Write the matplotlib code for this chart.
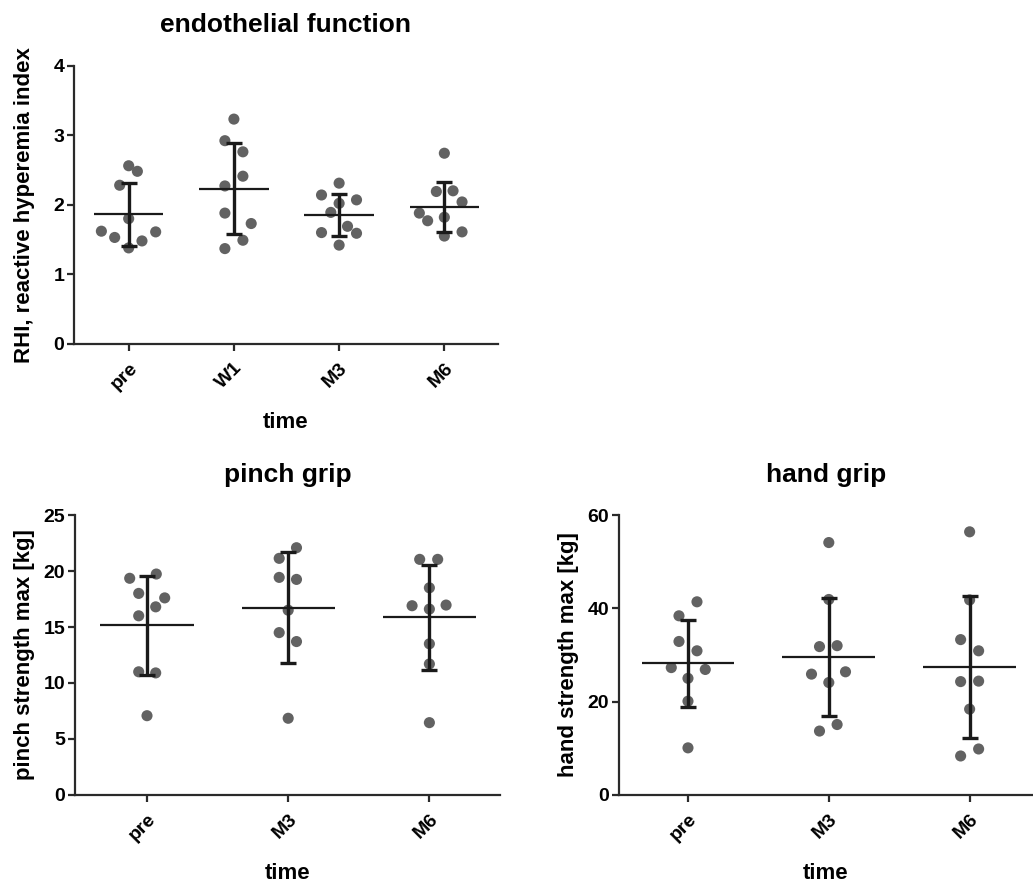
import numpy as np
import matplotlib
matplotlib.use("Agg")
from matplotlib import pyplot as plt

plt.rcParams['font.family'] = ['Liberation Sans', 'DejaVu Sans']
plt.rcParams['font.weight'] = 'bold'

# endothelial function (RHI)
rhi_groups = ["pre", "W1", "M3", "M6"]
rhi_pre = [2.56, 2.48, 2.28, 1.80, 1.62, 1.53, 1.61, 1.48, 1.38]
rhi_w1 = [3.23, 2.92, 2.76, 2.41, 2.27, 1.88, 1.73, 1.49, 1.37]
rhi_m3 = [2.31, 2.14, 2.07, 2.02, 1.89, 1.69, 1.60, 1.59, 1.42]
rhi_m6 = [2.74, 2.19, 2.20, 2.04, 1.88, 1.77, 1.82, 1.61, 1.55]
rhi_mean = [1.86, 2.23, 1.85, 1.97]
rhi_sd = [0.45, 0.655, 0.30, 0.36]

# pinch grip
grip_groups = ["pre", "M3", "M6"]
pinch_pre = [19.35, 19.73, 18.0, 17.6, 16.8, 16.0, 11.0, 10.9, 7.08]
pinch_m3 = [22.08, 21.13, 19.43, 19.25, 16.5, 14.5, 13.7, 6.85]
pinch_m6 = [21.04, 21.04, 18.5, 16.9, 16.6, 16.96, 13.5, 11.7, 6.46]
pinch_mean = [15.15, 16.73, 15.85]
pinch_sd = [4.42, 4.97, 4.65]

# hand grip
hand_pre = [41.4, 38.4, 32.9, 30.9, 27.3, 26.9, 25.0, 20.1, 10.1]
hand_m3 = [54.1, 41.9, 31.8, 32.0, 25.9, 26.4, 24.1, 15.1, 13.7]
hand_m6 = [56.4, 41.8, 33.3, 30.9, 24.3, 24.4, 18.4, 9.86, 8.36]
hand_mean = [28.2, 29.6, 27.5]
hand_sd = [9.4, 12.65, 15.2]

# horizontal scatter offsets of the dots, in pixels
rhi_jit = [[0, 8.7, -9, 0, -27.3, -14, 27, 13.3, 0],
           [0, -9, 9, 9, -9, -9, 17.3, 9, -9],
           [0, -17.6, 17.4, 0, -8.3, 8.4, -17.6, 17.4, 0],
           [0, -8, 8.7, 17.7, -25, -16.7, 0, 17.7, 0]]
pinch_jit = [[-17.3, 9.3, -8.3, 17.7, 8.7, -8.3, -8.3, 8.7, 0],
             [8.3, -9, -9, 8.3, 0, -9, 8.3, 0],
             [-9.7, 8.3, 0, -17.3, 0, 16.7, 0, 0, 0]]
hand_jit = [[9, -9, -9, 9, -16.7, 17.3, 0, 0, 0],
            [0, 0, -9.3, 8.3, -17.3, 16.7, 0, 8.3, -9.3],
            [0, 0, -9, 9, -9, 9, 0, 9, -9]]

FIG_W, FIG_H, DPI = 10.33, 8.84, 100
DOT = '#626262'
INK = '#1a1a1a'


def panel(fig, rect, xlim, groups, values, jitter, means, sds,
          ylim, yticks, title, ylabel, ypad=6):
    ax = fig.add_axes(rect)
    ax.set_xlim(*xlim)
    ax.set_ylim(*ylim)
    px_per_cat = rect[2] * FIG_W * DPI / (xlim[1] - xlim[0])
    for i, (vals, jit) in enumerate(zip(values, jitter)):
        xs = i + np.array(jit) / px_per_cat
        ax.scatter(xs, vals, s=64, color=DOT, edgecolors='none', zorder=2,
                   clip_on=False)
        ax.plot([i - 0.33, i + 0.33], [means[i], means[i]], color=INK,
                lw=1.6, zorder=3, solid_capstyle='butt')
        ax.errorbar(i, means[i], yerr=sds[i], fmt='none', ecolor=INK,
                    elinewidth=2.4, capsize=5.8, capthick=2.4, zorder=4)
    for s in ['top', 'right']:
        ax.spines[s].set_visible(False)
    for s in ['left', 'bottom']:
        ax.spines[s].set_linewidth(1.6)
        ax.spines[s].set_color('#2a2a2a')
    ax.set_yticks(yticks)
    ax.set_xticks(range(len(groups)))
    ax.set_xticklabels(groups, rotation=45, ha='right', rotation_mode='anchor')
    ax.tick_params(axis='both', direction='out', width=1.6, length=5,
                   labelsize=14, color='#2a2a2a')
    ax.tick_params(axis='x', pad=6)
    ax.tick_params(axis='y', pad=2)
    ax.set_title(title, fontsize=19, fontweight='bold', pad=24)
    ax.set_ylabel(ylabel, fontsize=16, fontweight='bold', labelpad=ypad)
    ax.set_xlabel("time", fontsize=16, fontweight='bold', labelpad=14)
    return ax


fig = plt.figure(figsize=(FIG_W, FIG_H), dpi=DPI)

panel(fig, [0.0716, 0.6109, 0.4105, 0.3150], (-0.52, 3.51), rhi_groups,
      [rhi_pre, rhi_w1, rhi_m3, rhi_m6], rhi_jit, rhi_mean, rhi_sd,
      (0, 4), [0, 1, 2, 3, 4], "endothelial function",
      "RHI, reactive hyperemia index", ypad=13)

panel(fig, [0.0726, 0.1007, 0.4114, 0.3167], (-0.51, 2.50), grip_groups,
      [pinch_pre, pinch_m3, pinch_m6], pinch_jit, pinch_mean, pinch_sd,
      (0, 25), [0, 5, 10, 15, 20, 25], "pinch grip",
      "pinch strength max [kg]")

panel(fig, [0.5992, 0.1007, 0.4008, 0.3167], (-0.49, 2.45), grip_groups,
      [hand_pre, hand_m3, hand_m6], hand_jit, hand_mean, hand_sd,
      (0, 60), [0, 20, 40, 60], "hand grip",
      "hand strength max [kg]")

fig.savefig("out.png", dpi=DPI)
